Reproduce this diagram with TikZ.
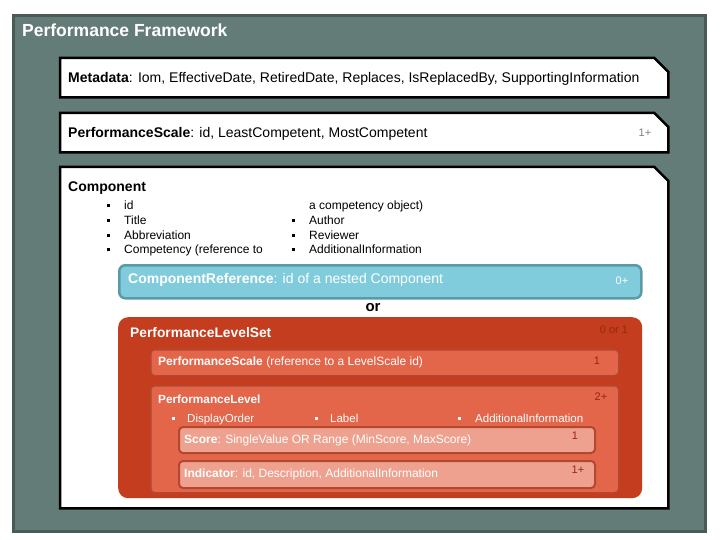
\documentclass[tikz,border=0pt]{standalone}
\usepackage{fontspec}
\setmainfont{Liberation Sans}
\definecolor{FrameGrey}{HTML}{647C77}
\definecolor{FrameEdge}{HTML}{4A5A57}
\definecolor{RefBlue}{HTML}{80CCDC}
\definecolor{RefEdge}{HTML}{5B9AA8}
\definecolor{SetRed}{HTML}{C43D1E}
\definecolor{LevelOrange}{HTML}{E3654A}
\definecolor{ScorePink}{HTML}{EEA18F}
\definecolor{InnerEdge}{HTML}{B4472F}
\definecolor{MultRed}{HTML}{962810}
\newcommand{\sqb}{\rule[2.5pt]{3pt}{3pt}}

\begin{document}
\begin{tikzpicture}[
    x=1pt,y=-1pt,
    framebox/.style={draw=FrameEdge,fill=FrameGrey,line width=3pt,anchor=north west,inner sep=0pt},
    classbox/.style={anchor=north west,inner sep=0pt,minimum width=608pt},
    classline/.style={draw=black,fill=white,line width=2.5pt},
    refbox/.style={draw=RefEdge,fill=RefBlue,line width=2.5pt,rounded corners=6pt,
      anchor=north west,inner sep=0pt},
    setbox/.style={fill=SetRed,rounded corners=10pt,anchor=north west,inner sep=0pt},
    levelbox/.style={fill=LevelOrange,draw=InnerEdge,line width=1.5pt,rounded corners=4pt,
      anchor=north west,inner sep=0pt},
    scorebox/.style={fill=ScorePink,draw=InnerEdge,line width=2pt,rounded corners=4pt,
      anchor=north west,inner sep=0pt},
    lbl/.style={anchor=west,inner sep=0pt,font=\fontsize{14}{16}\selectfont},
    small/.style={anchor=west,inner sep=0pt,align=left,font=\fontsize{12}{14.7}\selectfont},
    mult/.style={inner sep=0pt,font=\fontsize{11}{13}\selectfont}
  ]
    \useasboundingbox (0,0) rectangle (720,540);
    \node[framebox,minimum width=692pt,minimum height=516pt] (frame) at (12,14) {};
    \node[lbl,text=white,font=\bfseries\fontsize{17.5}{20}\selectfont] (fwtitle) at (22,30) {Performance Framework};

    % metadata and scale
    \node[classbox,minimum height=39pt] (meta) at (60,58) {};
    \draw[classline] (meta.north west) -- ([xshift=-14pt]meta.north east) -- ([yshift=-14pt]meta.north east)
      -- (meta.south east) -- (meta.south west) -- cycle;
    \node[lbl] (metatext) at (68,79) {\textbf{Metadata}: Iom, EffectiveDate, RetiredDate, Replaces, IsReplacedBy, SupportingInformation};
    \node[classbox,minimum height=39pt] (scale) at (60,113) {};
    \draw[classline] (scale.north west) -- ([xshift=-14pt]scale.north east) -- ([yshift=-14pt]scale.north east)
      -- (scale.south east) -- (scale.south west) -- cycle;
    \node[lbl] (scaletext) at (68,134) {\textbf{PerformanceScale}: id, LeastCompetent, MostCompetent};
    \node[mult,text=gray] (scalemult) at (645,133) {1+};

    % component
    \node[classbox,minimum height=341pt] (comp) at (60,167) {};
    \draw[classline] (comp.north west) -- ([xshift=-14pt]comp.north east) -- ([yshift=-14pt]comp.north east)
      -- (comp.south east) -- (comp.south west) -- cycle;
    \node[lbl,font=\bfseries\fontsize{14}{16}\selectfont] (comptext) at (68,188) {Component};
    \node[small,anchor=north west] (compleft) at (107,201) {\sqb\hspace{14pt}id\\ \sqb\hspace{14pt}Title\\ \sqb\hspace{14pt}Abbreviation\\ \sqb\hspace{14pt}Competency (reference to};
    \node[small,anchor=north west] (compright) at (292,201) {\hphantom{\sqb}\hspace{14pt}a competency object)\\ \sqb\hspace{14pt}Author\\ \sqb\hspace{14pt}Reviewer\\ \sqb\hspace{14pt}AdditionalInformation};
    \node[refbox,minimum width=522pt,minimum height=33pt] (compref) at (118,264) {};
    \node[lbl,text=white] (compreftext) at (128,280) {\textbf{ComponentReference}: id of a nested Component};
    \node[mult,text=white] (compreftmult) at (622,281) {0+};
    \node[inner sep=0pt,font=\bfseries\fontsize{15}{17}\selectfont] (ortext) at (373,308) {or};

    % level set
    \node[setbox,minimum width=524pt,minimum height=181pt] (lset) at (118,317) {};
    \node[lbl,text=white,font=\bfseries\fontsize{13.8}{16}\selectfont] (lsettext) at (130,333) {PerformanceLevelSet};
    \node[mult,text=MultRed] (lsetmult) at (614,330) {0 or 1};
    \node[levelbox,minimum width=468pt,minimum height=26pt] (lscale) at (150,349) {};
    \node[small,text=white] (lscaletext) at (158,362) {\textbf{PerformanceScale} (reference to a LevelScale id)};
    \node[mult,text=MultRed] (lscalemult) at (597,361) {1};
    \node[levelbox,minimum width=468pt,minimum height=107pt] (level) at (150,385) {};
    \node[small,text=white,font=\bfseries\fontsize{11.8}{14}\selectfont] (leveltext) at (158,399) {PerformanceLevel};
    \node[mult,text=MultRed] (levelmult) at (601,397) {2+};
    \node[small,anchor=base west,text=white,font=\fontsize{11.5}{14}\selectfont] (order) at (172,422) {\sqb\hspace{12pt}DisplayOrder};
    \node[small,anchor=base west,text=white,font=\fontsize{11.5}{14}\selectfont] (label) at (315,422) {\sqb\hspace{12pt}Label};
    \node[small,anchor=base west,text=white,font=\fontsize{11.5}{14}\selectfont] (addinfo) at (458,422) {\sqb\hspace{14pt}AdditionalInformation};
    \node[scorebox,minimum width=416pt,minimum height=26pt] (score) at (178,426) {};
    \node[small,text=white] (scoretext) at (184,440) {\textbf{Score}: SingleValue OR Range (MinScore, MaxScore)};
    \node[mult,text=MultRed] (scoremult) at (575,436) {1};
    \node[scorebox,minimum width=416pt,minimum height=27pt] (indic) at (178,460) {};
    \node[small,text=white] (indictext) at (184,474) {\textbf{Indicator}: id, Description, AdditionalInformation};
    \node[mult,text=MultRed] (indicmult) at (578,470) {1+};
  \end{tikzpicture}
\end{document}
